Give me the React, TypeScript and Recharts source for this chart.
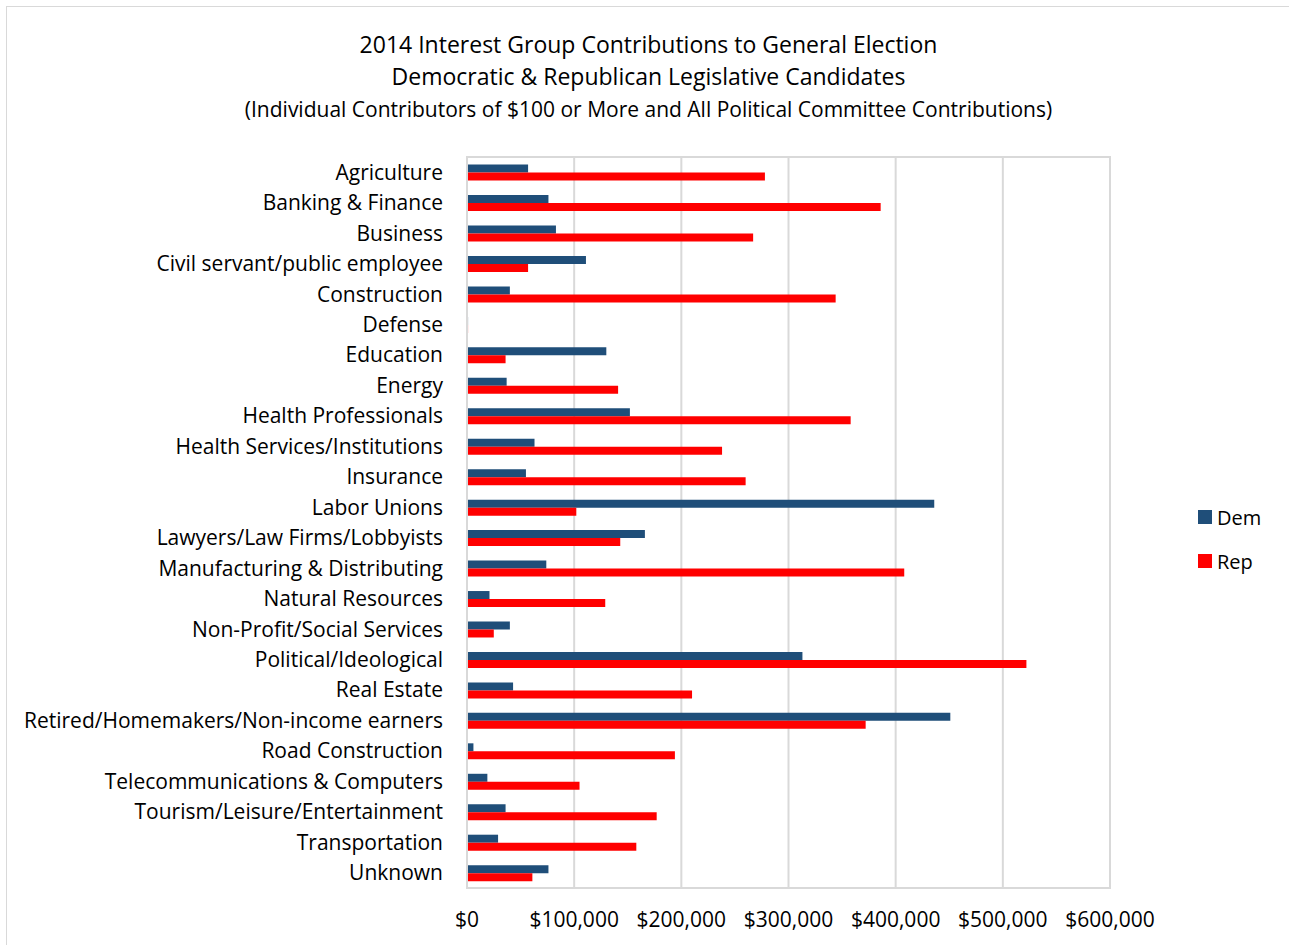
import React from 'react'
import {
  BarChart,
  Bar,
  XAxis,
  YAxis,
  CartesianGrid,
  ReferenceArea,
} from 'recharts'

const categories = [
  'Agriculture',
  'Banking & Finance',
  'Business',
  'Civil servant/public employee',
  'Construction',
  'Defense',
  'Education',
  'Energy',
  'Health Professionals',
  'Health Services/Institutions',
  'Insurance',
  'Labor Unions',
  'Lawyers/Law Firms/Lobbyists',
  'Manufacturing & Distributing',
  'Natural Resources',
  'Non-Profit/Social Services',
  'Political/Ideological',
  'Real Estate',
  'Retired/Homemakers/Non-income earners',
  'Road Construction',
  'Telecommunications & Computers',
  'Tourism/Leisure/Entertainment',
  'Transportation',
  'Unknown',
]

const demValues = [
  57000, 76000, 83000, 111000, 40000, 1000, 130000, 37000, 152000, 63000, 55000,
  436000, 166000, 74000, 21000, 40000, 313000, 43000, 451000, 6000, 19000, 36000,
  29000, 76000,
]

const repValues = [
  278000, 386000, 267000, 57000, 344000, 1000, 36000, 141000, 358000, 238000, 260000,
  102000, 143000, 408000, 129000, 25000, 522000, 210000, 372000, 194000, 105000, 177000,
  158000, 61000,
]

const xTicks = [0, 100000, 200000, 300000, 400000, 500000, 600000]

const DEM_COLOR = '#1f4e79'
const REP_COLOR = '#ff0000'
const FONT = '"Open Sans", sans-serif'

const data = categories.map((name, i) => ({
  name,
  dem: demValues[i],
  rep: repValues[i],
}))

const fmtMoney = (v: number) => '$' + v.toLocaleString('en-US')

function LegendBox() {
  const items = [
    { label: 'Dem', color: DEM_COLOR },
    { label: 'Rep', color: REP_COLOR },
  ]
  return (
    <div style={{ position: 'absolute', left: 1198, top: 505, fontFamily: FONT, fontSize: 20 }}>
      {items.map((it) => (
        <div key={it.label} style={{ display: 'flex', alignItems: 'center', height: 24, marginBottom: 20 }}>
          <span style={{ width: 14, height: 14, background: it.color, display: 'inline-block', marginRight: 5 }} />
          <span style={{ color: '#000' }}>{it.label}</span>
        </div>
      ))}
    </div>
  )
}

export default function App() {
  return (
    <div style={{ position: 'absolute', left: 0, top: 0, width: 1289, height: 945, background: '#fff', overflow: 'hidden' }}>
      <div
        style={{
          position: 'absolute',
          left: 6,
          top: 6,
          width: 1300,
          height: 1000,
          border: '1px solid #d9d9d9',
        }}
      />
      <div style={{ position: 'absolute', left: 0, width: 1297, top: 28, textAlign: 'center', fontFamily: FONT, color: '#000' }}>
        <div style={{ fontSize: 23, lineHeight: '32px' }}>2014 Interest Group Contributions to General Election</div>
        <div style={{ fontSize: 23, lineHeight: '32px' }}>Democratic &amp; Republican Legislative Candidates</div>
        <div style={{ fontSize: 21, lineHeight: '34px' }}>
          (Individual Contributors of $100 or More and All Political Committee Contributions)
        </div>
      </div>
      <BarChart
        width={1289}
        height={945}
        data={data}
        layout="vertical"
        margin={{ top: 157, right: 179, bottom: 0, left: 7 }}
        barCategoryGap="25%"
        barGap={0}
        style={{ position: 'absolute', left: 0, top: 0 }}
      >
        <CartesianGrid horizontal={false} stroke="#d9d9d9" strokeWidth={2} />
        <XAxis
          type="number"
          domain={[0, 600000]}
          ticks={xTicks}
          tickFormatter={fmtMoney}
          height={57}
          axisLine={{ stroke: '#d9d9d9', strokeWidth: 2 }}
          tickLine={false}
          tickSize={0}
          tickMargin={24}
          tick={{ fill: '#000', fontSize: 21, fontFamily: FONT }}
          interval={0}
        />
        <YAxis
          type="category"
          dataKey="name"
          width={460}
          axisLine={{ stroke: '#d9d9d9', strokeWidth: 2 }}
          tickLine={false}
          tickSize={0}
          tickMargin={24}
          tick={{ fill: '#000', fontSize: 21, fontFamily: FONT }}
          interval={0}
        />
        <ReferenceArea x1={0} x2={600000} fill="none" stroke="#d9d9d9" strokeWidth={2} ifOverflow="visible" />
        <Bar dataKey="dem" name="Dem" fill={DEM_COLOR} isAnimationActive={false} />
        <Bar dataKey="rep" name="Rep" fill={REP_COLOR} isAnimationActive={false} />
      </BarChart>
      <LegendBox />
    </div>
  )
}
